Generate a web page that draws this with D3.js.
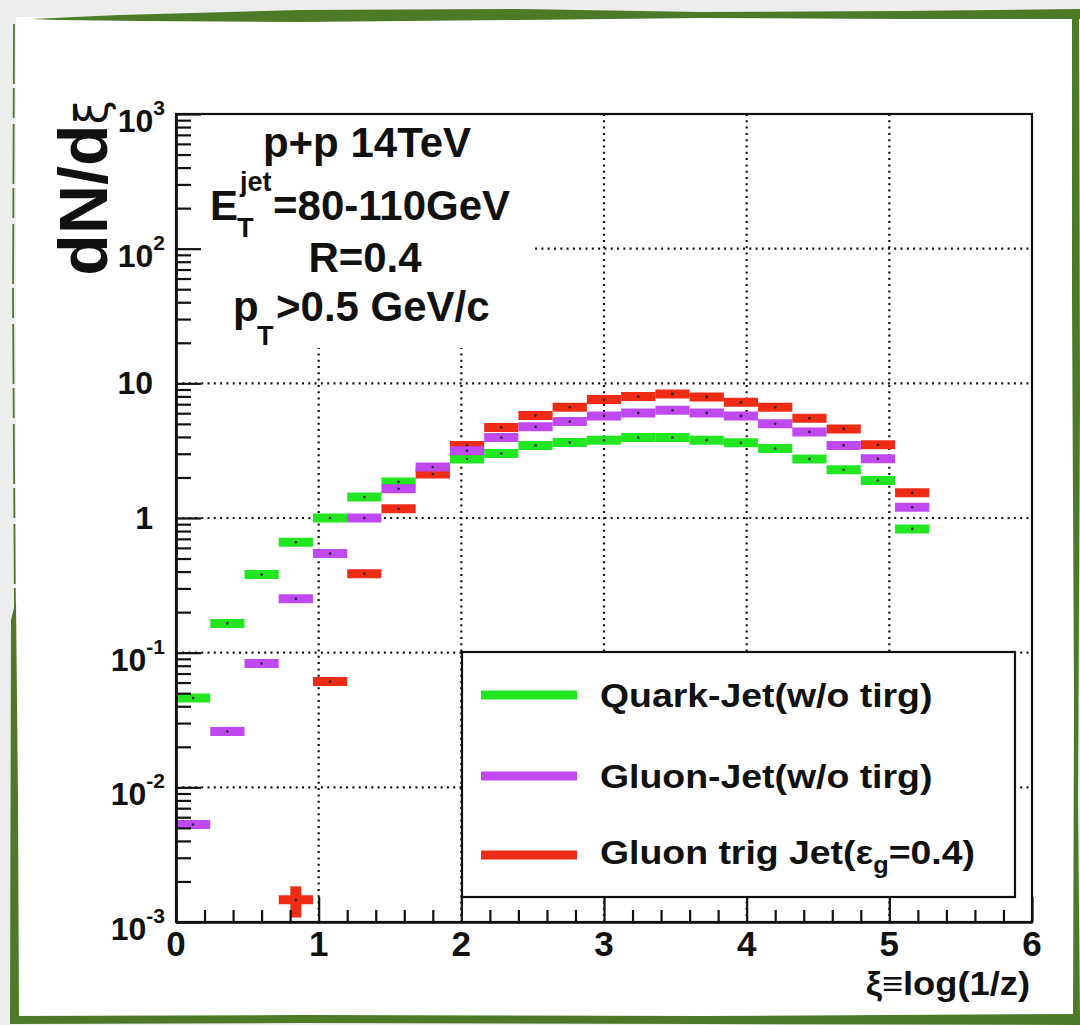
<!DOCTYPE html>
<html>
<head>
<meta charset="utf-8">
<script src="https://cdn.jsdelivr.net/npm/d3@7"></script>
<style>
  body { margin: 0; background: #ececec; }
  svg text { font-family: "Liberation Sans", Arial, Helvetica, sans-serif; font-weight: bold; fill: #111; }
</style>
</head>
<body>
<svg id="chart" width="1080" height="1025"></svg>
<script>
// ξ bins (centres) and bin width
const xiCenters = [0.12, 0.36, 0.60, 0.84, 1.08, 1.32, 1.56, 1.80, 2.04, 2.28, 2.52,
                   2.76, 3.00, 3.24, 3.48, 3.72, 3.96, 4.20, 4.44, 4.68, 4.92, 5.16];
const binWidth = 0.24;

// dN/dξ per bin
const quarkJet = [0.046, 0.165, 0.38, 0.66, 1.0, 1.43, 1.85, 2.28, 2.74, 3.01, 3.46,
                  3.64, 3.78, 3.96, 3.96, 3.78, 3.62, 3.28, 2.74, 2.28, 1.90, 0.83];
const gluonJet = [0.0053, 0.026, 0.083, 0.251, 0.545, 1.0, 1.65, 2.39, 3.16, 3.96, 4.75,
                  5.20, 5.73, 6.03, 6.31, 6.03, 5.73, 5.00, 4.36, 3.46, 2.75, 1.20];
const gluonTrigJet = [null, null, null, 0.00146, 0.061, 0.385, 1.17, 2.12, 3.46, 4.70, 5.76,
                      6.64, 7.57, 7.97, 8.35, 7.93, 7.24, 6.64, 5.51, 4.59, 3.50, 1.54];
const gluonTrigErr = [0, 0, 0, 0.00038, 0, 0, 0, 0, 0, 0, 0,
                      0, 0, 0, 0, 0, 0, 0, 0, 0, 0, 0];

const seriesColors = ["#22e622", "#bf48f0", "#ee2b14"];
const legendLabels = [["Quark-Jet(w/o tirg)"], ["Gluon-Jet(w/o tirg)"], ["Gluon trig Jet(ε", "g", "=0.4)"]];

// axis ticks and labels
const xTicks = [0, 1, 2, 3, 4, 5, 6];
const xMinor = [0.2, 0.4, 0.6, 0.8, 1.2, 1.4, 1.6, 1.8, 2.2, 2.4, 2.6, 2.8, 3.2, 3.4, 3.6, 3.8,
                4.2, 4.4, 4.6, 4.8, 5.2, 5.4, 5.6, 5.8];
const yTicks = [1e-3, 1e-2, 1e-1, 1, 10, 100, 1000];
const yTickBase = ["10", "10", "10", "1", "10", "10", "10"];
const yTickExp = ["-3", "-2", "-1", "", "", "2", "3"];
const xGrid = [1, 2, 3, 4, 5];
const yGrid = [1e-2, 1e-1, 1, 10, 100];

const svg = d3.select("#chart");

// ---- card and brushed green frame ----
svg.append("rect").attr("width", 1080).attr("height", 1025).attr("fill", "#ededed");
svg.append("rect").attr("x", 16).attr("y", 17).attr("width", 1060).attr("height", 1002).attr("fill", "#fff");
const frameGreen = "#4c7a27";
const brush = [
  "M30,19 L120,15 L300,10 L520,9 L700,12 L900,11 L1080,9 L1080,19 L900,19 L700,18 L520,20 L300,22 L140,21 L60,20 Z",
  "M1072,14 L1079,12 L1080,400 L1078,800 L1080,1022 L1073,1022 L1074,700 L1072,300 Z",
  "M10,1016 L300,1015 L700,1016 L1080,1014 L1080,1025 L700,1024 L300,1023 L10,1024 Z",
  "M11,620 L16,600 L18,800 L19,1020 L10,1022 Z"
];
svg.append("g").selectAll("path").data(brush).join("path").attr("d", d => d).attr("fill", frameGreen);
svg.append("path").attr("d", "M14,24 L13,300 L15,620").attr("stroke", frameGreen)
  .attr("stroke-width", 1.8).attr("fill", "none").attr("stroke-dasharray", "60 4 30 6");

// ---- scales ----
const x = d3.scaleLinear().domain([0, 6]).range([176, 1032]);
const y = d3.scaleLog().domain([1e-3, 1e3]).range([922, 114]);

// ---- grid ----
const grid = svg.append("g").attr("stroke", "#111").attr("stroke-width", 2.2)
  .attr("stroke-dasharray", "2 4.3").attr("fill", "none");
grid.selectAll("line.gx").data(xGrid).join("line").attr("class", "gx")
  .attr("x1", d => x(d)).attr("x2", d => x(d)).attr("y1", y(1e3)).attr("y2", y(1e-3));
grid.selectAll("line.gy").data(yGrid).join("line").attr("class", "gy")
  .attr("y1", d => y(d)).attr("y2", d => y(d)).attr("x1", x(0)).attr("x2", x(6));

// ---- info box (covers the grid) ----
svg.append("rect").attr("x", x(0) + 1).attr("y", y(1e3) + 1).attr("width", 358).attr("height", 233).attr("fill", "#fff");
const info = svg.append("g").attr("font-size", 42);
info.append("text").attr("x", 367).attr("y", 157).attr("text-anchor", "middle").text("p+p 14TeV");
info.append("text").attr("x", 210).attr("y", 220).text("E");
info.append("text").attr("x", 240).attr("y", 191).attr("font-size", 27).text("jet");
info.append("text").attr("x", 237).attr("y", 237).attr("font-size", 27).text("T");
info.append("text").attr("x", 273).attr("y", 220).text("=80-110GeV");
info.append("text").attr("x", 365).attr("y", 272).attr("text-anchor", "middle").text("R=0.4");
info.append("text").attr("x", 233).attr("y", 321).text("p");
info.append("text").attr("x", 257).attr("y", 345).attr("font-size", 27).text("T");
info.append("text").attr("x", 276).attr("y", 321).text(">0.5 GeV/c");

// ---- histograms ----
const series = [
  { values: quarkJet, color: seriesColors[0], err: null },
  { values: gluonTrigJet, color: seriesColors[2], err: gluonTrigErr },
  { values: gluonJet, color: seriesColors[1], err: null }
];
const plot = svg.append("g");
series.forEach(s => {
  const pts = s.values.map((v, i) => ({ c: xiCenters[i], v, e: s.err ? s.err[i] : 0 })).filter(p => p.v != null);
  const g = plot.append("g").attr("stroke", s.color).attr("stroke-width", 9);
  g.selectAll("line.h").data(pts).join("line").attr("class", "h")
    .attr("x1", p => x(p.c - binWidth / 2)).attr("x2", p => x(p.c + binWidth / 2))
    .attr("y1", p => y(p.v)).attr("y2", p => y(p.v));
  g.selectAll("line.v").data(pts.filter(p => p.e > 0)).join("line").attr("class", "v")
    .attr("x1", p => x(p.c)).attr("x2", p => x(p.c))
    .attr("y1", p => y(p.v - p.e)).attr("y2", p => y(p.v + p.e)).attr("stroke-width", 11);
  plot.append("g").selectAll("circle").data(pts).join("circle")
    .attr("cx", p => x(p.c)).attr("cy", p => y(p.v)).attr("r", 1.3).attr("fill", "#222");
});

// ---- axes ----
const axes = svg.append("g");
const xAxisMajor = d3.axisBottom(x).tickValues(xTicks).tickSize(-25).tickSizeOuter(0).tickFormat("");
const xAxisMinor = d3.axisBottom(x).tickValues(xMinor).tickSize(-12).tickSizeOuter(0).tickFormat("");
const yMinorVals = [];
for (let e = -3; e < 3; e++) for (let m = 2; m <= 9; m++) yMinorVals.push(m * Math.pow(10, e));
const yAxisMajor = d3.axisLeft(y).tickValues(yTicks).tickSize(-25).tickSizeOuter(0).tickFormat("");
const yAxisMinor = d3.axisLeft(y).tickValues(yMinorVals).tickSize(-15).tickSizeOuter(0).tickFormat("");
[xAxisMajor, xAxisMinor].forEach(a => axes.append("g").attr("transform", `translate(0,${y(1e-3)})`).call(a));
[yAxisMajor, yAxisMinor].forEach(a => axes.append("g").attr("transform", `translate(${x(0)},0)`).call(a));
axes.selectAll("line, path").attr("stroke", "#111").attr("stroke-width", 2.2);
svg.append("rect").attr("x", x(0)).attr("y", y(1e3)).attr("width", x(6) - x(0)).attr("height", y(1e-3) - y(1e3))
  .attr("fill", "none").attr("stroke", "#111").attr("stroke-width", 2.2);

// tick labels
svg.append("g").attr("font-size", 35).attr("text-anchor", "middle")
  .selectAll("text").data(xTicks).join("text")
  .attr("x", d => x(d)).attr("y", 956).text(d => d);
const yl = svg.append("g").attr("font-size", 32).attr("text-anchor", "end");
yTicks.forEach((t, i) => {
  const txt = yl.append("text").attr("y", y(t) + (yTickExp[i] ? 18 : 11))
    .attr("x", yTickExp[i] ? 165 : 153);
  txt.append("tspan").text(yTickBase[i]);
  if (yTickExp[i]) txt.append("tspan").attr("font-size", 21).attr("dy", -17).text(yTickExp[i]);
});

// axis titles
const yt = svg.append("text").attr("transform", "translate(107,100) rotate(-90)")
  .attr("text-anchor", "end").attr("font-size", 68);
yt.append("tspan").text("dN/d");
yt.append("tspan").attr("font-weight", "normal").attr("font-family", "DejaVu Sans").attr("font-size", 44).text("ξ");
svg.append("text").attr("transform", "translate(1030,995) scale(1.1,1)").attr("text-anchor", "end")
  .attr("font-size", 33).text("ξ≡log(1/z)");

// ---- legend ----
const lg = svg.append("g");
lg.append("rect").attr("x", 462).attr("y", 652).attr("width", 553).attr("height", 245)
  .attr("fill", "#fff").attr("stroke", "#111").attr("stroke-width", 2.2);
const rowY = [695, 776, 855];
const rowBase = [707, 788, 864];
legendLabels.forEach((lab, i) => {
  lg.append("line").attr("x1", 481).attr("x2", 577).attr("y1", rowY[i]).attr("y2", rowY[i])
    .attr("stroke", seriesColors[i]).attr("stroke-width", 9);
  const t = lg.append("text").attr("transform", `translate(600,${rowBase[i]}) scale(1.1,1)`).attr("font-size", 34);
  t.append("tspan").text(lab[0]);
  if (lab.length > 1) {
    t.append("tspan").attr("font-size", 23).attr("dy", 9).text(lab[1]);
    t.append("tspan").attr("dy", -9).text(lab[2]);
  }
});
</script>
</body>
</html>
